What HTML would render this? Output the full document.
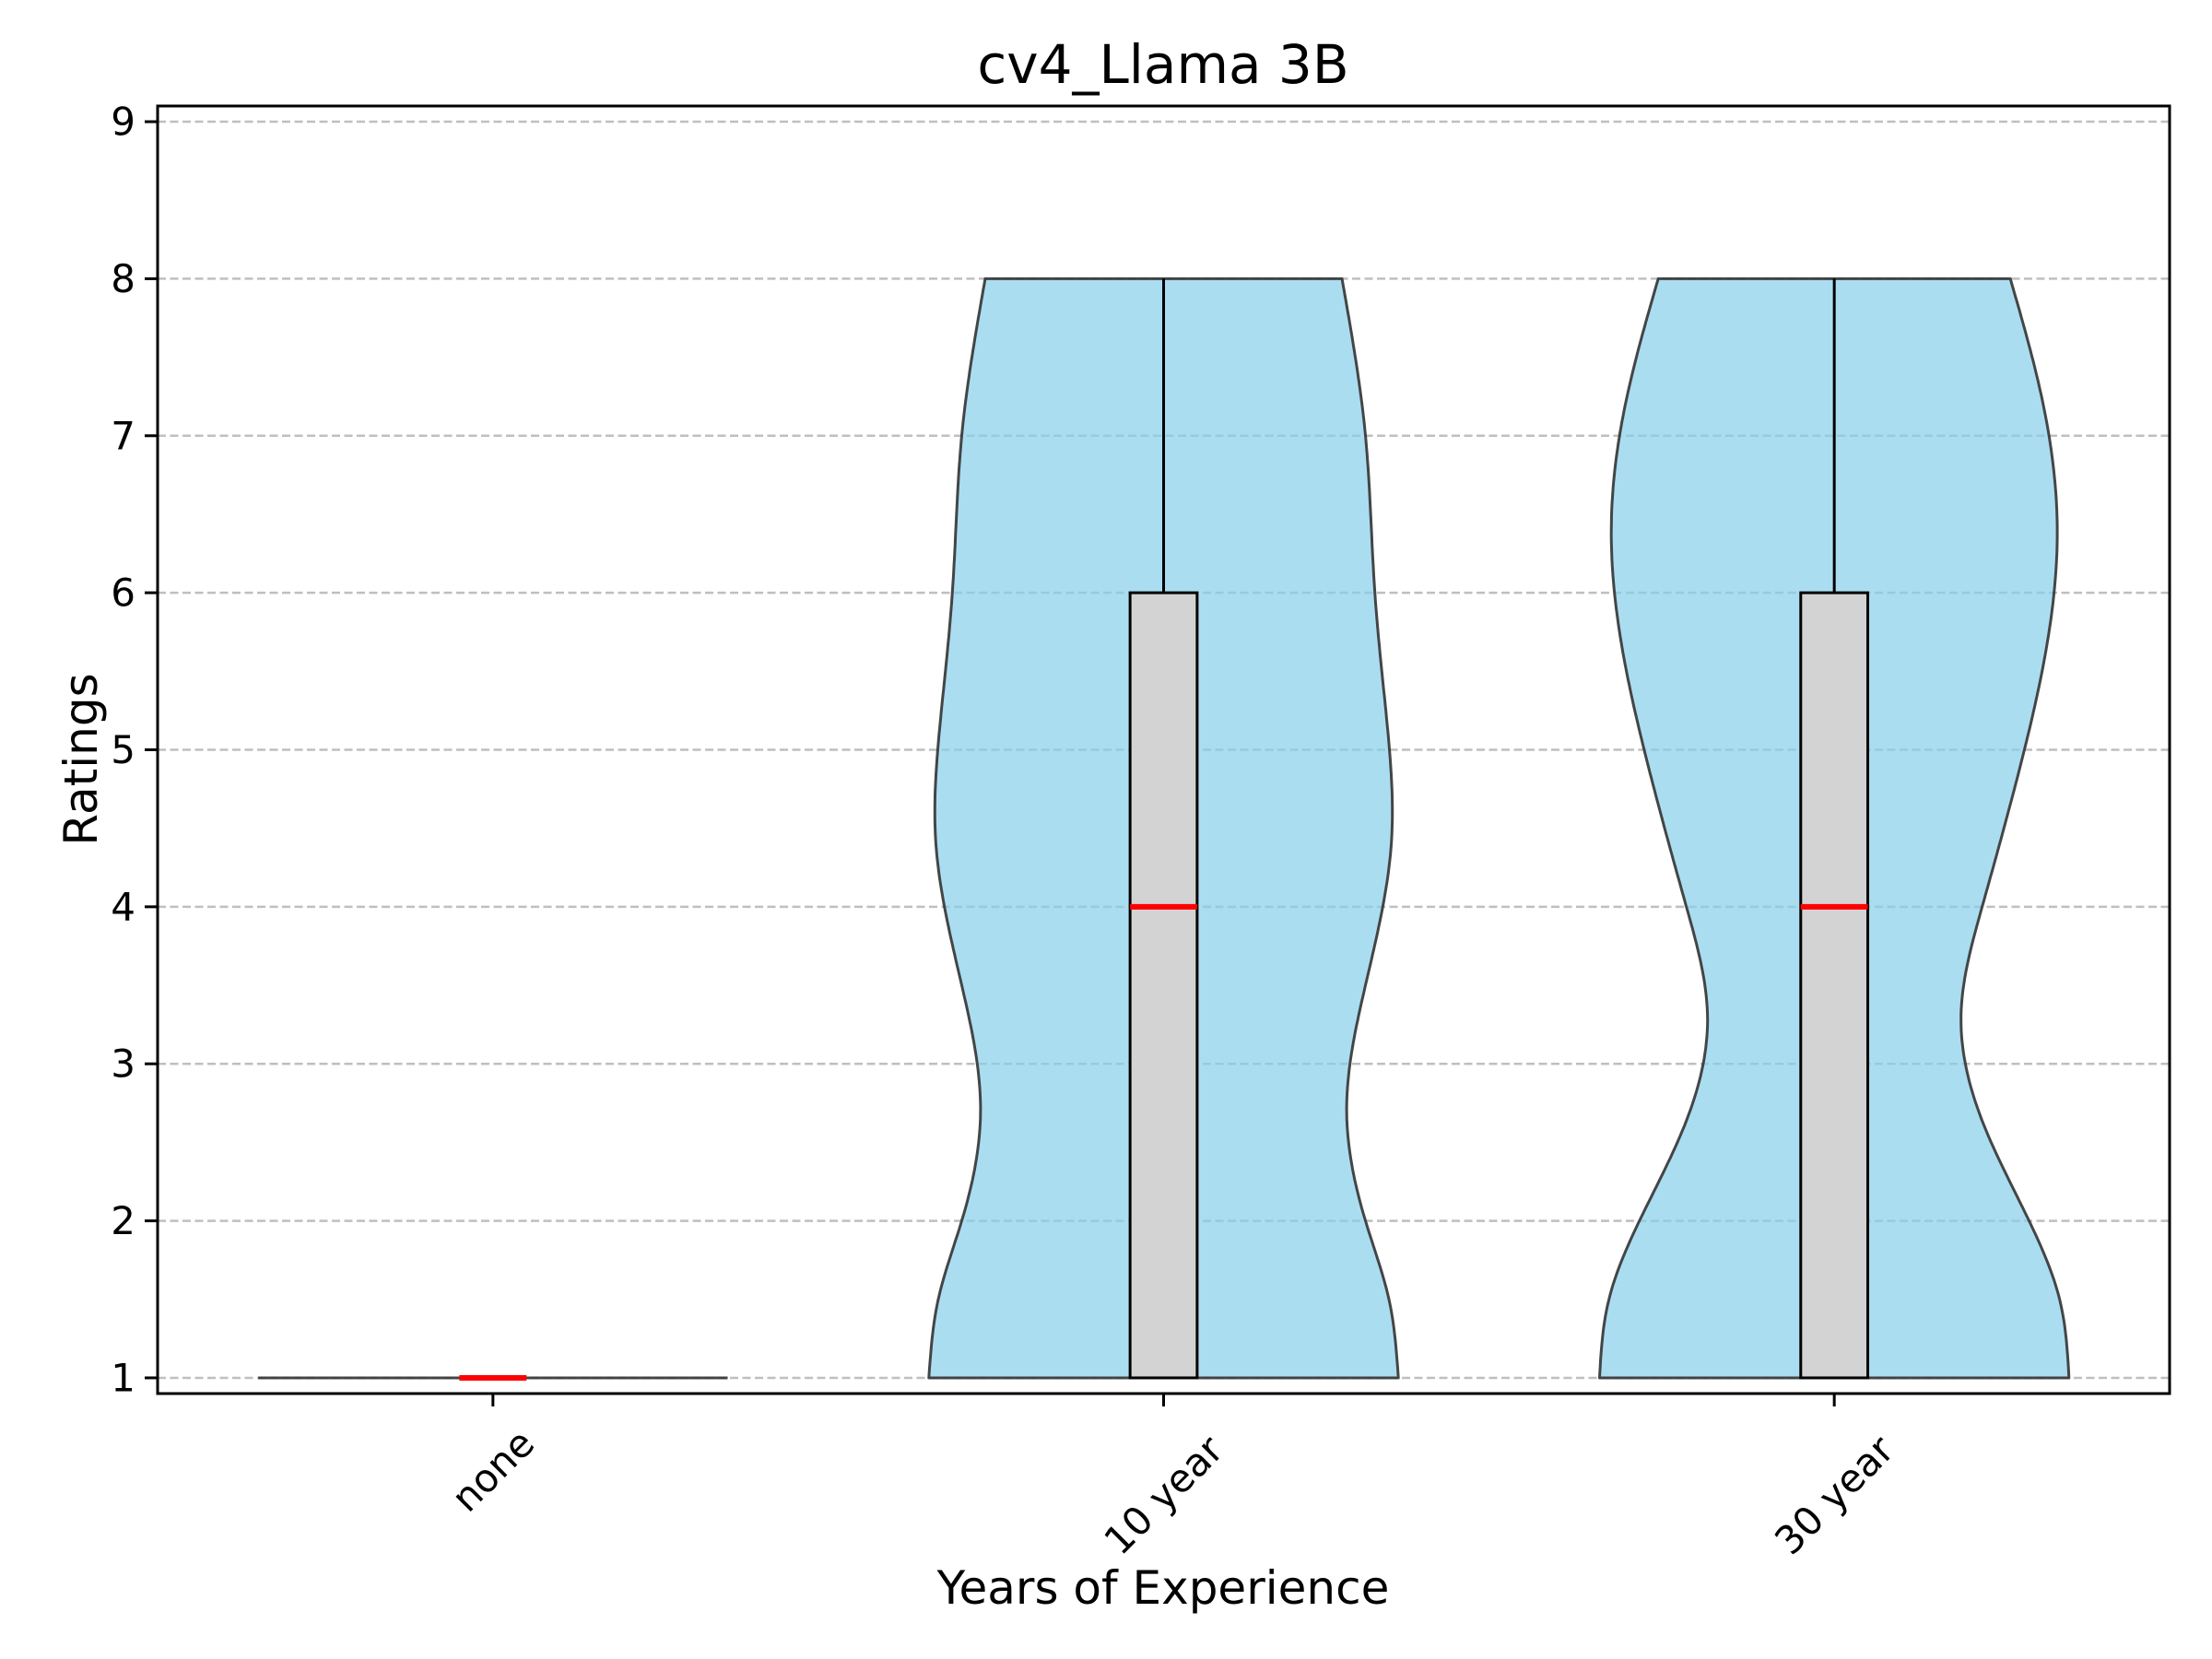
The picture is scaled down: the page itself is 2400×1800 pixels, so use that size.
<!DOCTYPE html>
<html><head><meta charset="utf-8"><style>
html,body{margin:0;padding:0;background:#fff;}
svg{display:block;font-family:"DejaVu Sans","Liberation Sans",sans-serif;}
</style></head><body>
<svg id="chart" width="2400" height="1800" viewBox="0 0 2400 1800" xmlns="http://www.w3.org/2000/svg">
<rect width="2400" height="1800" fill="#fff"/>
<g id="grid"></g><g id="marks"></g><g id="axes"></g>
<text x="1262" y="90" font-size="58" text-anchor="middle">cv4_Llama 3B</text>
<text transform="translate(88,824) rotate(-90)" font-size="50" text-anchor="middle" dominant-baseline="central">Ratings</text>
<text x="1262" y="1740" font-size="50" text-anchor="middle">Years of Experience</text>
</svg>
<script>
const categories = ["none", "10 year", "30 year"];
const yTicks = [1,2,3,4,5,6,7,8,9];
const q1 = [1, 1, 1];
const medians = [1, 4, 4];
const q3 = [1, 6, 6];
const whiskLo = [1, 1, 1];
const whiskHi = [1, 8, 8];
const violinLevels0 = [1, 1];
const violinWidths0 = [1, 1];
const violinLevels1 = [1, 1.5, 2, 2.7, 3.5, 4.4, 5.2, 6, 7, 8];
const violinWidths1 = [1.0, 0.96, 0.86, 0.78, 0.86, 0.97, 0.95, 0.9, 0.86, 0.76];
const violinLevels2 = [1, 1.5, 2, 2.6, 3.3, 4, 5, 6.4, 7.2, 8];
const violinWidths2 = [1.0, 0.96, 0.83, 0.64, 0.54, 0.63, 0.81, 0.95, 0.89, 0.75];

const NS = "http://www.w3.org/2000/svg";
const L = 171, R = 2354, T = 115, B = 1512;
const xMin = -0.5, xMax = 2.5, yMin = 0.9, yMax = 9.1;
const xS = v => L + (v - xMin) / (xMax - xMin) * (R - L);
const yS = v => B - (v - yMin) / (yMax - yMin) * (B - T);
const unitPx = xS(1) - xS(0);
function mk(tag, attrs, parent){const e=document.createElementNS(NS,tag);for(const k in attrs)e.setAttribute(k,attrs[k]);parent.appendChild(e);return e;}
const grid = document.getElementById('grid'), marks = document.getElementById('marks'), axes = document.getElementById('axes');

yTicks.forEach(t => {
  const g = mk('line',{x1:L,x2:R,y1:yS(t),y2:yS(t),stroke:'#bfbfbf','stroke-width':2.5,'stroke-dasharray':'9,4.5'},grid);
  
  
  const tk = mk('line',{x1:L-14,x2:L,y1:yS(t),y2:yS(t),stroke:'#000','stroke-width':3},axes);
  
  
  const lb = mk('text',{x:L-24,y:yS(t),'font-size':42,'text-anchor':'end','dominant-baseline':'central'},axes);
  lb.textContent = t;
  
  
});

function spline(xs, ys){
  const n = xs.length, h=[], a=[], l=[1], mu=[0], z=[0], c=new Array(n).fill(0), b=[], d=[];
  for(let i=0;i<n-1;i++) h.push(xs[i+1]-xs[i]);
  for(let i=1;i<n-1;i++) a[i]=3/h[i]*(ys[i+1]-ys[i])-3/h[i-1]*(ys[i]-ys[i-1]);
  for(let i=1;i<n-1;i++){l[i]=2*(xs[i+1]-xs[i-1])-h[i-1]*mu[i-1];mu[i]=h[i]/l[i];z[i]=(a[i]-h[i-1]*z[i-1])/l[i];}
  c[n-1]=0;
  for(let j=n-2;j>=1;j--) c[j]=z[j]-mu[j]*c[j+1];
  c[0]=0;
  for(let j=0;j<n-1;j++){b[j]=(ys[j+1]-ys[j])/h[j]-h[j]*(c[j+1]+2*c[j])/3;d[j]=(c[j+1]-c[j])/(3*h[j]);}
  return x=>{let j=0;while(j<n-2&&x>xs[j+1])j++;const dx=x-xs[j];return ys[j]+b[j]*dx+c[j]*dx*dx+d[j]*dx*dx*dx;};
}
const levels = [violinLevels0, violinLevels1, violinLevels2];
const widths = [violinWidths0, violinWidths1, violinWidths2];
const maxHalf = 0.35;
categories.forEach((c,i) => {
  const cx = xS(i);
  const lv = levels[i], wd = widths[i];
  let d;
  if (lv[0] === lv[lv.length-1]) {
    const hw = wd[0]*maxHalf*unitPx;
    d = `M${cx-hw},${yS(lv[0])} L${cx+hw},${yS(lv[0])}`;
  } else {
    const f = spline(lv, wd);
    const lo = lv[0], hi = lv[lv.length-1], N = 200;
    const right=[], left=[];
    for(let k=0;k<=N;k++){const y=lo+(hi-lo)*k/N;const w=f(y)*maxHalf*unitPx;right.push([cx+w,yS(y)]);left.push([cx-w,yS(y)]);}
    left.reverse();
    d = 'M' + right.map(p=>p[0].toFixed(1)+','+p[1].toFixed(1)).join(' L') + ' L' + left.map(p=>p[0].toFixed(1)+','+p[1].toFixed(1)).join(' L') + ' Z';
  }
  const v = mk('path',{d:d,fill:'#87ceeb','fill-opacity':0.7,stroke:'#333','stroke-opacity':0.9,'stroke-width':3,'stroke-linejoin':'round'},marks);
  
  
  const bw = 0.05*unitPx;
  const wl = mk('line',{x1:cx,x2:cx,y1:yS(whiskLo[i]),y2:yS(q1[i]),stroke:'#000','stroke-width':3},marks);
  
  
  const wh = mk('line',{x1:cx,x2:cx,y1:yS(q3[i]),y2:yS(whiskHi[i]),stroke:'#000','stroke-width':3},marks);
  
  
  if (q3[i] > q1[i]) {
    const bx = mk('rect',{x:cx-bw,y:yS(q3[i]),width:2*bw,height:yS(q1[i])-yS(q3[i]),fill:'#d3d3d3',stroke:'#000','stroke-width':3},marks);
    
    
  }
  const md = mk('line',{x1:cx-bw,x2:cx+bw,y1:yS(medians[i]),y2:yS(medians[i]),stroke:'#ff0000','stroke-width':6},marks);
  
  
  const tk = mk('line',{x1:cx,x2:cx,y1:B,y2:B+14,stroke:'#000','stroke-width':3},axes);
  
  
  const lb = mk('text',{'font-size':42,'text-anchor':'middle','dominant-baseline':'central'},axes);
  lb.textContent = c;
  
  
  const w = c.length*0.6*42;
  const half = (w+42)*0.7071/2;
  lb.setAttribute('transform',`translate(${cx},${1545+half}) rotate(-45)`);
});
const fr = mk('rect',{x:L,y:T,width:R-L,height:B-T,fill:'none',stroke:'#000','stroke-width':3},axes);


</script>
</body></html>
